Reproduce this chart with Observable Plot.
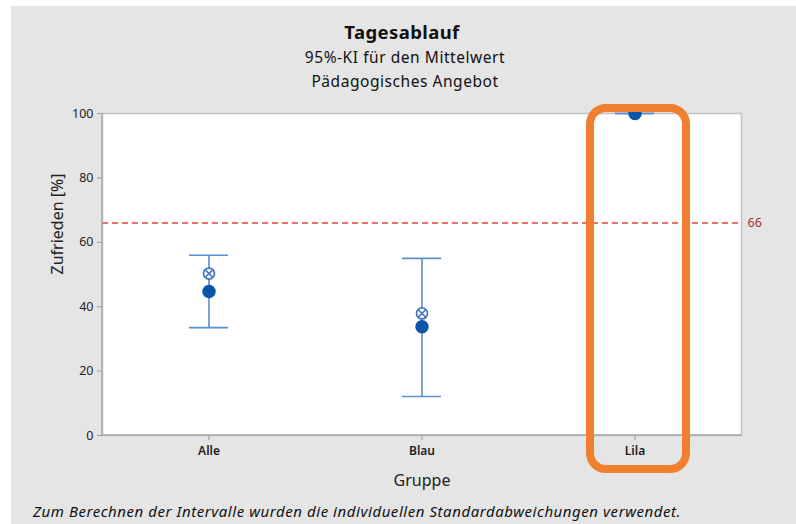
<!DOCTYPE html>
<html><head><meta charset="utf-8">
<script src="https://cdn.jsdelivr.net/npm/d3@7"></script>
<script src="https://cdn.jsdelivr.net/npm/@observablehq/plot@0.6"></script>
<style>
body{margin:0;background:#fff;font-family:"Noto Sans",sans-serif;}
#wrap{position:relative;width:796px;height:524px;overflow:hidden;}
#bg{position:absolute;left:11px;top:6px;right:0;bottom:0;background:#e5e5e5;}
.t{position:absolute;left:14px;right:0;text-align:center;color:#111;white-space:nowrap;}
#chart{position:absolute;left:0;top:0;}
#foot{position:absolute;left:33px;top:501px;font-style:italic;font-size:15px;letter-spacing:0.55px;color:#111;white-space:nowrap;}
</style></head>
<body><div id="wrap"><div id="bg"></div>
<div class="t" style="top:19px;font-size:18.5px;font-weight:bold;letter-spacing:0.4px;left:8px;">Tagesablauf</div>
<div class="t" style="top:46px;font-size:15.5px;letter-spacing:0.55px;">95%-KI für den Mittelwert</div>
<div class="t" style="top:70px;font-size:15.5px;letter-spacing:0.55px;">Pädagogisches Angebot</div>
<div id="chart"></div>
<div id="foot">Zum Berechnen der Intervalle wurden die individuellen Standardabweichungen verwendet.</div>
</div>
<script>
const groups = ["Alle", "Blau", "Lila"];
const means = [44.7, 33.8, 100];
const crossed = [50.3, 37.9, 100];
const ciLow = [33.5, 12.1, 100];
const ciHigh = [56, 55, 100];
const yTicks = [0, 20, 40, 60, 80, 100];
const refValue = 66;

const data = groups.map((g, i) => ({g, mean: means[i], cross: crossed[i], lo: ciLow[i], hi: ciHigh[i]}));
const blue = "#0b56a8", light = "#5b8fd0";

const plot = Plot.plot({
  width: 796, height: 524,
  marginLeft: 102, marginRight: 55, marginTop: 113, marginBottom: 89,
  style: {background: "transparent", fontFamily: "Noto Sans, sans-serif", overflow: "visible"},
  x: {type: "band", domain: groups, padding: 0, label: null},
  y: {domain: [0, 100], label: null},
  marks: [
    Plot.frame({fill: "white", stroke: "#c4c4c4", strokeWidth: 1.5}),
    Plot.ruleY([refValue], {stroke: "#e8706e", strokeWidth: 1.8, strokeDasharray: "6,4"}),
    Plot.text([refValue], {y: d => d, frameAnchor: "right", dx: 6, textAnchor: "start", text: d => String(d), fill: "#a33030", fontSize: 12.5}),
    Plot.ruleX(data, {x: "g", y1: "lo", y2: "hi", stroke: light, strokeWidth: 1.6}),
    Plot.tickY(data, {x: "g", y: "lo", stroke: light, strokeWidth: 1.6, insetLeft: 87, insetRight: 87}),
    Plot.tickY(data, {x: "g", y: "hi", stroke: light, strokeWidth: 1.6, insetLeft: 87, insetRight: 87}),
    Plot.dot(data, {x: "g", y: "cross", r: 5.5, fill: "white", stroke: "#3f76bd", strokeWidth: 1.7}),
    Plot.dot(data, {x: "g", y: "cross", r: 3.4, symbol: "times", stroke: "#3f76bd", strokeWidth: 1.5}),
    Plot.dot(data, {x: "g", y: "mean", r: 6, fill: blue, stroke: blue}),
    Plot.axisY({ticks: yTicks, tickSize: 5, stroke: "#999", fill: "#222", fontSize: 12.5, tickPadding: 4, label: null}),
    Plot.axisX({tickSize: 5, stroke: "#999", fill: "#222", fontSize: 12, fontWeight: 600, tickPadding: 6, label: null}),
    Plot.text(["Zufrieden [%]"], {frameAnchor: "left", dx: -45, rotate: -90, fontSize: 16, fill: "#222", text: d => d}),
    Plot.text(["Gruppe"], {frameAnchor: "bottom", dy: 50, fontSize: 16, fill: "#222", text: d => d})
  ]
});
document.getElementById("chart").appendChild(plot);

// axis lines along left and bottom
const xs = plot.scale("x"), ys = plot.scale("y");
const svg = d3.select(plot);
const x0 = xs.range[0], x1 = xs.range[1];
svg.append("line").attr("x1", x0).attr("x2", x0).attr("y1", ys.apply(0)).attr("y2", ys.apply(100)).attr("stroke", "#a8a8a8").attr("stroke-width", 1.5);
svg.append("line").attr("x1", x0).attr("x2", x1).attr("y1", ys.apply(0)).attr("y2", ys.apply(0)).attr("stroke", "#a8a8a8").attr("stroke-width", 1.5);

// highlight box around Lila
const cx = xs.apply("Lila") + xs.bandwidth / 2;
svg.append("rect")
  .attr("x", cx - 44.5).attr("width", 96)
  .attr("y", ys.apply(100) - 5).attr("height", ys.apply(0) - ys.apply(100) + 39)
  .attr("rx", 16).attr("fill", "none").attr("stroke", "#f0802f").attr("stroke-width", 8);
</script></body></html>
